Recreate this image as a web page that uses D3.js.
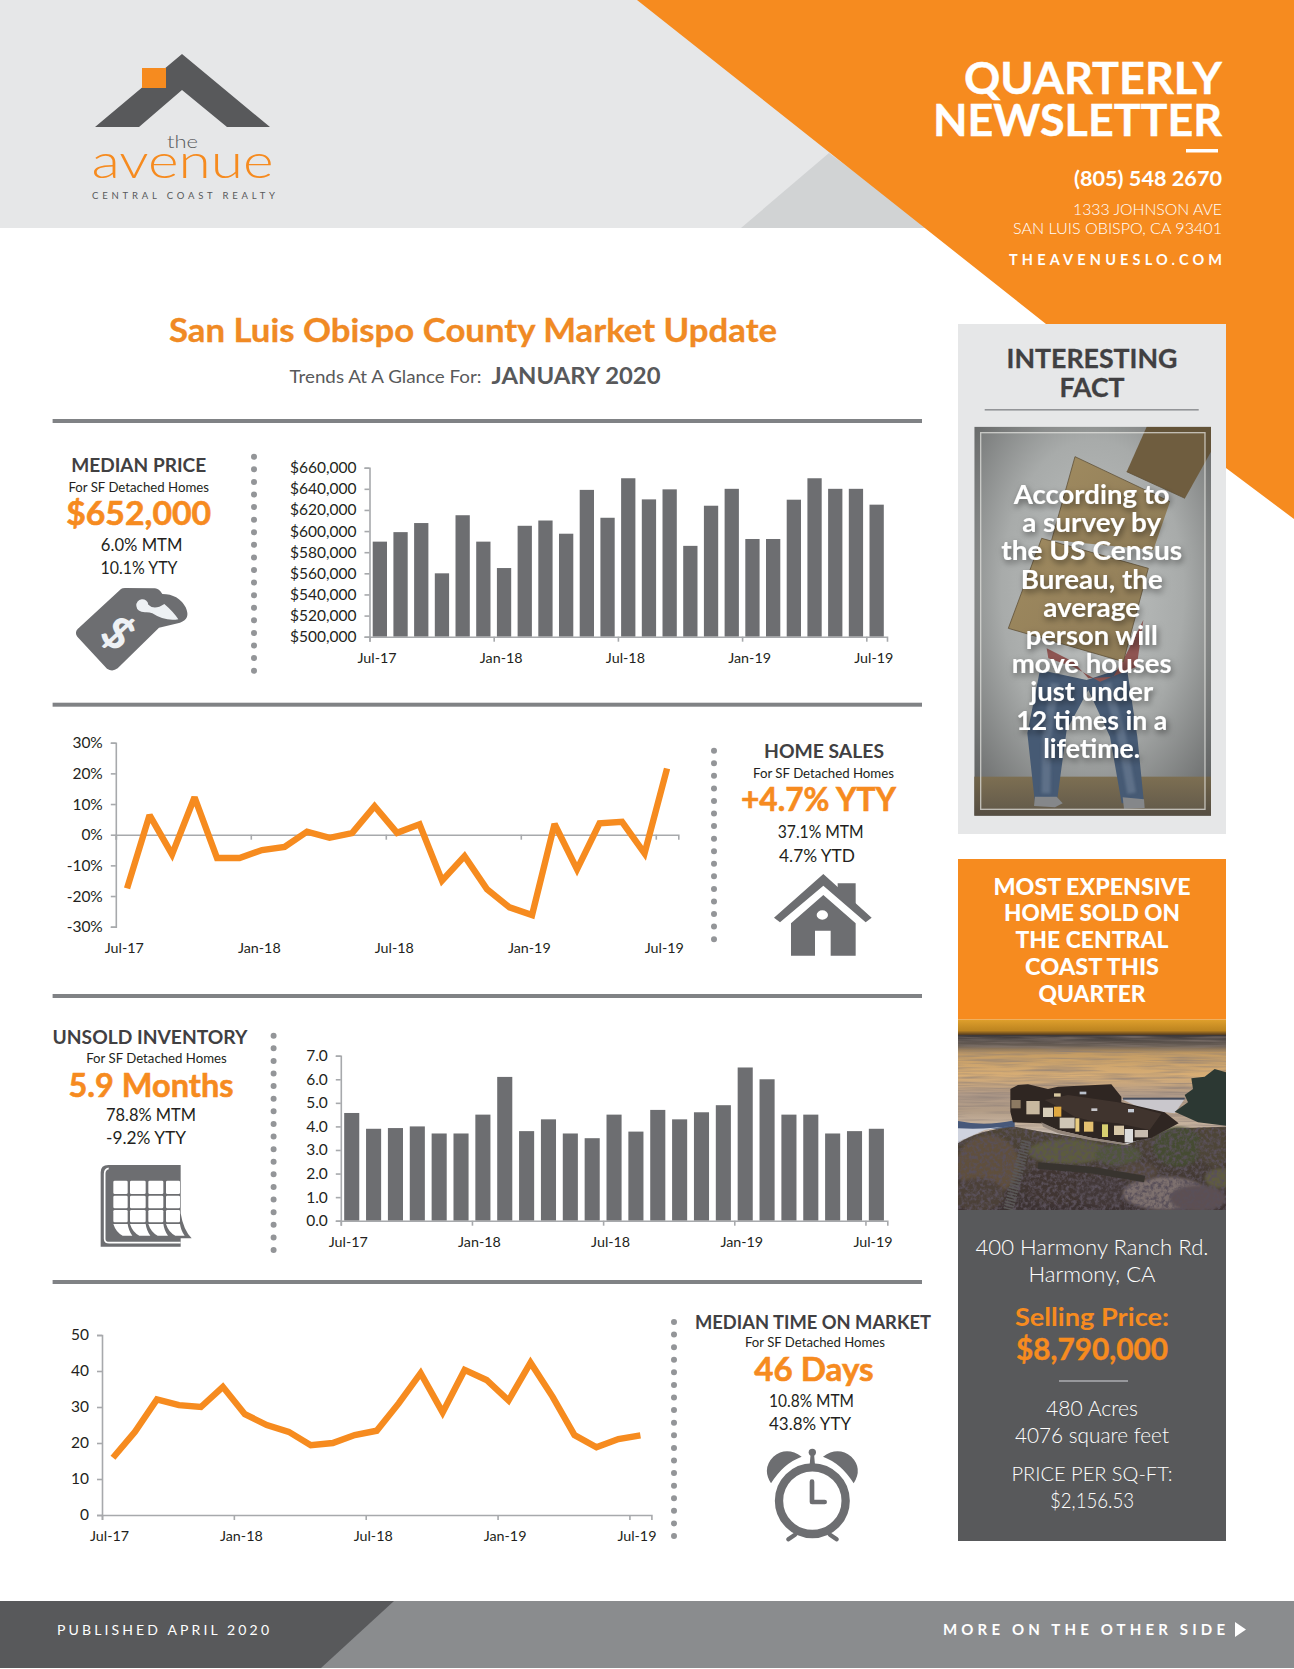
<!DOCTYPE html>
<html><head><meta charset="utf-8">
<script src="https://cdn.jsdelivr.net/npm/d3@7"></script>
<style>
html,body{margin:0;padding:0;background:#fff}
svg{display:block}
text{font-family:Lato,"Open Sans",sans-serif}
.axis text{fill:#231f20;font-size:15.5px;font-weight:400;font-family:Lato,sans-serif}
.axis line,.axis path{stroke:#a7a9ac;stroke-width:1.6;fill:none}
</style></head><body>
<script>
const months=["Jul-17","Aug-17","Sep-17","Oct-17","Nov-17","Dec-17","Jan-18","Feb-18","Mar-18","Apr-18","May-18","Jun-18","Jul-18","Aug-18","Sep-18","Oct-18","Nov-18","Dec-18","Jan-19","Feb-19","Mar-19","Apr-19","May-19","Jun-19","Jul-19"];
const tickMonths=["Jul-17","Jan-18","Jul-18","Jan-19","Jul-19"];
const medianPrice=[590,599,607.6,560,615,590,565,605,610,597.5,639,612.6,650,630,639.5,586,624,640,592.5,592.5,629.7,650,640,640,625].map(v=>v*1000);
const homeSales=[-17.5,6.4,-6.4,12.2,-7.6,-7.6,-5,-4,1,-1,0.5,9.3,0.6,3.4,-15,-7,-17.8,-23.7,-26.2,3.5,-11.3,3.7,4.2,-6.1,21.6];
const inventory=[4.57,3.9,3.93,4.0,3.7,3.7,4.5,6.1,3.8,4.3,3.7,3.5,4.5,3.78,4.7,4.3,4.6,4.9,6.5,6.0,4.5,4.5,3.7,3.8,3.9];
const timeOnMarket=[15.9,23.1,32.1,30.5,30,35.6,28,25,23.1,19.4,20,22.2,23.4,31,39.4,28.5,40.3,37.5,31.8,42.3,32.9,22.2,18.8,21.1,22.1];
const priceTicks=[500,520,540,560,580,600,620,640,660].map(v=>v*1000);
const salesTicks=[-30,-20,-10,0,10,20,30];
const inventoryTicks=[0,1,2,3,4,5,6,7];
const timeTicks=[0,10,20,30,40,50];
const factLines=["According to","a survey by","the US Census","Bureau, the","average","person will","move houses","just under","12 times in a","lifetime."];
const factWidths=[156,139,181,142,97,132,160,123,151,97];
const soldLines=["MOST EXPENSIVE","HOME SOLD ON","THE CENTRAL","COAST THIS","QUARTER"];
const soldWidths=[197,176,153,134,107];

const ORANGE="#f68b1f",DARK="#58595b",HEAD="#414042",BAR="#6d6e71",GR="#e6e7e8";
const svg=d3.select("body").append("svg").attr("width",1294).attr("height",1669).attr("viewBox","0 0 1294 1669");
const defs=svg.append("defs");
defs.html(`
<radialGradient id="wall" cx="50%" cy="42%" r="70%"><stop offset="0" stop-color="#c0c3c2"/><stop offset=".55" stop-color="#a8abaa"/><stop offset="1" stop-color="#6c6e6e"/></radialGradient>
<linearGradient id="floor" x1="0" y1="0" x2="0" y2="1"><stop offset="0" stop-color="#7d6f52"/><stop offset="1" stop-color="#5f574a"/></linearGradient>
<linearGradient id="sky" x1="0" y1="0" x2="0" y2="1"><stop offset="0" stop-color="#e0a02c"/><stop offset=".7" stop-color="#bd8420"/><stop offset="1" stop-color="#4a3420"/></linearGradient>
<linearGradient id="sea" x1="0" y1="0" x2="0" y2="1"><stop offset="0" stop-color="#3b3738"/><stop offset=".1" stop-color="#6a5f56"/><stop offset=".17" stop-color="#c49c64"/><stop offset=".38" stop-color="#d8ae76"/><stop offset=".55" stop-color="#b09a88"/><stop offset=".7" stop-color="#b29c86"/><stop offset=".85" stop-color="#ccb8a4"/><stop offset="1" stop-color="#b4b6c4"/></linearGradient>
<linearGradient id="land" x1="0" y1="0" x2="0" y2="1"><stop offset="0" stop-color="#4e4536"/><stop offset="1" stop-color="#3a3032"/></linearGradient>
<linearGradient id="box" x1="0" y1="0" x2="1" y2="1"><stop offset="0" stop-color="#a08b60"/><stop offset="1" stop-color="#8d7a56"/></linearGradient>
<filter id="soft" x="-20%" y="-20%" width="140%" height="140%"><feGaussianBlur stdDeviation="5"/></filter>
<filter id="soft1" x="-20%" y="-20%" width="140%" height="140%"><feGaussianBlur stdDeviation="1.6"/></filter>
<filter id="bands" x="0" y="0" width="100%" height="100%"><feTurbulence type="fractalNoise" baseFrequency="0.005 0.14" numOctaves="3" seed="4"/><feColorMatrix values="0 0 0 0 .25  0 0 0 0 .2  0 0 0 0 .18  1.5 0 0 0 -.6"/></filter>
<filter id="bush" x="0" y="0" width="100%" height="100%"><feTurbulence type="fractalNoise" baseFrequency="0.09" numOctaves="3" seed="9"/><feColorMatrix values="0 0 0 0 .1  0 0 0 0 .08  0 0 0 0 .1  3 0 0 0 -1.2"/></filter>
<filter id="ts" x="-20%" y="-40%" width="140%" height="180%"><feDropShadow dx="1.5" dy="3" stdDeviation="3" flood-color="#000" flood-opacity=".5"/></filter>
<clipPath id="c1"><rect x="974.3" y="426.7" width="236.7" height="389"/></clipPath>
<clipPath id="c2"><rect x="958" y="1019.6" width="268" height="190.4"/></clipPath>
<clipPath id="landClip"><path d="M0 385Q60 345 170 335L250 350L500 390L650 340L805 335V600H0Z"/></clipPath>
<clipPath id="seaClip"><rect x="0" y="62" width="805" height="320"/></clipPath>`);

// helpers
function T(str,x,y,o={}){
  const t=svg.append("text").attr("x",x).attr("y",y).text(str)
    .attr("text-anchor",o.anchor||"middle").attr("font-size",o.size||16)
    .attr("font-weight",o.weight||400).attr("fill",o.fill||"#231f20");
  if(o.width){t.attr("textLength",o.width).attr("lengthAdjust",o.adjust||"spacingAndGlyphs");}
  if(o.filter)t.attr("filter",o.filter);
  if(o.stroke)t.attr("stroke",o.fill).attr("stroke-width",o.stroke);
  return t;
}
function P(d,fill,parent){return (parent||svg).append("path").attr("d",d).attr("fill",fill);}
const icon=(x,y)=>svg.append("g").attr("transform",`translate(${x},${y}) scale(0.33333)`);

// header
svg.append("rect").attr("width",1294).attr("height",228).attr("fill",GR);
P("M829 153L741 228H930Z","#d1d3d4");
P("M637 0H1294V519L1226 468V324H1046Z",ORANGE);
// logo
P("M182 54L270 127H227L182 90L139 127H95Z",DARK);
svg.append("rect").attr("x",142).attr("y",68).attr("width",24).attr("height",20).attr("fill",ORANGE);
T("the",182.5,148,{size:18,weight:300,fill:DARK,width:31});
T("avenue",182.5,178,{size:47,weight:300,fill:ORANGE,width:182});
T("CENTRAL COAST REALTY",183.5,199,{size:9.5,fill:DARK,width:183,adjust:"spacing"});
T("QUARTERLY",1222,94,{size:44,weight:700,fill:"#fff",anchor:"end",width:258,stroke:.4});
T("NEWSLETTER",1222,136,{size:44,weight:700,fill:"#fff",anchor:"end",width:289,stroke:.4});
svg.append("rect").attr("x",1186).attr("y",149).attr("width",32).attr("height",3.5).attr("fill","#fff");
T("(805) 548 2670",1222,186,{size:20,weight:700,fill:"#fff",anchor:"end",width:148});
T("1333 JOHNSON AVE",1222,215,{size:16,weight:300,fill:"#fff",anchor:"end",width:149});
T("SAN LUIS OBISPO, CA 93401",1222,234,{size:16,weight:300,fill:"#fff",anchor:"end",width:209});
T("THEAVENUESLO.COM",1222,265,{size:14.5,weight:700,fill:"#fff",anchor:"end",width:213,adjust:"spacing"});
// title
T("San Luis Obispo County Market Update",473,342,{size:32,weight:700,fill:"#f08a24",width:608,stroke:.3});
T("Trends At A Glance For:",385.5,382.5,{size:17.5,fill:DARK,width:192});
T("JANUARY 2020",576,383.5,{size:23,weight:700,fill:DARK,width:169});

// dividers
[421,704.7,996,1282].forEach(y=>svg.append("rect").attr("x",52.6).attr("y",y-2).attr("width",869.4).attr("height",4).attr("fill","#808285"));
// dotted lines
[[254,456.7,670.7],[714,750.7,951.7],[273.6,1035.7,1250],[674,1322,1536]].forEach(([x,a,b])=>{
  svg.append("line").attr("x1",x).attr("x2",x).attr("y1",a).attr("y2",b)
    .attr("stroke","#939598").attr("stroke-width",6).attr("stroke-linecap","round")
    .attr("stroke-dasharray",`0 ${(b-a)/Math.round((b-a)/12.4)}`);
});

// charts
function chart(cfg){
  const g=svg.append("g");
  const x=d3.scaleBand().domain(months).range([cfg.x0,cfg.x1]).padding(0);
  const xt=d3.scaleLinear().domain([0,months.length]).range([cfg.x0,cfg.x1]);
  const y=d3.scaleLinear().domain(cfg.domain).range([cfg.yb,cfg.yt]);
  if(cfg.kind==="bar"){
    const w=x.bandwidth()*0.69;
    g.selectAll("rect").data(cfg.values).join("rect")
      .attr("x",(d,i)=>x(months[i])+(x.bandwidth()-w)/2).attr("width",w)
      .attr("y",d=>y(d)).attr("height",d=>y(cfg.domain[0])-y(d)).attr("fill",BAR);
  }
  g.append("g").attr("class","axis").attr("transform",`translate(${cfg.x0},0)`)
    .call(d3.axisLeft(y).tickValues(cfg.ticks).tickFormat(cfg.fmt).tickSizeOuter(0).tickSize(5).tickPadding(cfg.pad||8));
  const base=cfg.base===undefined?cfg.domain[0]:cfg.base;
  const xa=g.append("g").attr("class","axis").attr("transform",`translate(0,${y(base)})`)
    .call(d3.axisBottom(xt).tickValues([0,6,12,18,24]).tickFormat((d,i)=>tickMonths[i]).tickSizeOuter(0).tickSize(5));
  xa.selectAll("text").attr("dx",cfg.dx||7).attr("y",0).attr("dy",0).style("font-size","14.3px")
    .attr("transform",`translate(0,${cfg.labelY-y(base)+5})`);
  if(cfg.kind==="line"){
    g.append("path").datum(cfg.values).attr("fill","none").attr("stroke",ORANGE)
      .attr("stroke-width",6.4).attr("stroke-linejoin","miter").attr("stroke-miterlimit",2.5)
      .attr("d",d3.line().x((d,i)=>x(months[i])+x.bandwidth()/2).y(d=>y(d)));
  }
}
chart({kind:"bar",values:medianPrice,x0:369.5,x1:887,yt:467.7,yb:636.7,domain:[500000,660000],ticks:priceTicks,fmt:d3.format("$,"),labelY:658});
chart({kind:"line",values:homeSales,x0:115.8,x1:678.3,yt:742.7,yb:926.7,domain:[-30,30],base:0,ticks:salesTicks,fmt:d=>d+"%",labelY:948,dx:8});
chart({kind:"bar",values:inventory,x0:340.8,x1:887.3,yt:1055.7,yb:1220.7,domain:[0,7],ticks:inventoryTicks,fmt:d3.format(".1f"),labelY:1242});
chart({kind:"line",values:timeOnMarket,x0:102,x1:651.4,yt:1335,yb:1515,domain:[0,50],ticks:timeTicks,fmt:d=>d,labelY:1536,dx:7});

// stat blocks
function stat(a){
  T(a[0][0],a[0][1],a[0][2],{size:18.5,weight:700,fill:HEAD,width:a[0][3]});
  T(a[1][0],a[1][1],a[1][2],{size:13,fill:"#231f20",width:a[1][3]});
  T(a[2][0],a[2][1],a[2][2]+1,{size:33,weight:700,fill:ORANGE,width:a[2][3],stroke:.6});
  T(a[3][0],a[3][1],a[3][2],{size:17,fill:"#231f20",width:a[3][3]});
  T(a[4][0],a[4][1],a[4][2],{size:17,fill:"#231f20",width:a[4][3]});
}
stat([["MEDIAN PRICE",138.7,471.7,135],["For SF Detached Homes",138.7,491.7,140.6],["$652,000",138.7,524,145],["6.0% MTM",141.6,551,81.5],["10.1% YTY",139,574,77]]);
stat([["HOME SALES",824,757.7,120],["For SF Detached Homes",823.5,777.7,141],["+4.7% YTY",818.5,810.3,155],["37.1% MTM",820.7,837.7,86],["4.7% YTD",817,861.7,76]]);
stat([["UNSOLD INVENTORY",150,1043.7,195],["For SF Detached Homes",156.5,1063.3,140.6],["5.9 Months",151,1096,165],["78.8% MTM",151,1121,90],["-9.2% YTY",146,1144,80]]);
stat([["MEDIAN TIME ON MARKET",813,1328.7,236],["For SF Detached Homes",815,1347.3,140],["46 Days",814,1380,119.4],["10.8% MTM",811.5,1406.7,85],["43.8% YTY",810,1430,82]]);

// price tag
const tag=icon(65,580);
P("M168 27Q172 24 180 24L270 25Q282 26 292 42Q340 42 362 82Q378 118 345 128L282 143L158 265Q142 277 126 266L37 170Q28 158 38 147Z",BAR,tag);
P("M214 78a18 18 0 0 1 36 -4Q268 92 298 72Q325 95 340 118Q300 125 262 100Q252 96 240 97Q216 96 214 78Z","#eef1f4",tag);
tag.append("text").attr("transform","translate(158,160) rotate(42) translate(0,46)")
  .attr("text-anchor","middle").attr("font-size",132).attr("font-weight",900).attr("fill","#eef1f4").text("$");
// house
const hs=icon(765,865);
P("M218 55H272V125L218 75Z",BAR,hs);
P("M175 27L320 158L302 172L175 62L45 172L27 158Z",BAR,hs);
P("M175 90L272 175V272H197V197H150V272H78V175Z",BAR,hs);
hs.append("ellipse").attr("cx",172).attr("cy",150).attr("rx",17).attr("ry",14).attr("fill","#fff");
// calendar
const cal=icon(90,1155);
P("M32 52Q32 30 55 30H272V175Q280 225 305 250H272V275H32Z",BAR,cal);
cal.append("path").attr("d","M56 40Q44 42 44 56V252Q44 263 58 263H272").attr("fill","none").attr("stroke","#fff").attr("stroke-width",5);
[[70,113],[120,167],[175,220],[228,270]].forEach(([a,b])=>{
  [[77,117],[122,160],[165,202]].forEach(([c,d])=>{
    cal.append("rect").attr("x",a).attr("y",c).attr("width",b-a).attr("height",d-c).attr("rx",4).attr("fill","#fff");
  });
  P(`M${a} 207H${b}Q${b+3} 228 ${b+14} 242H${a+28}Q${a+8} 232 ${a} 207Z`,"#fff",cal);
});
// clock
const ck=icon(755,1440);
const ear="M48 130Q20 85 55 50Q95 18 140 50Q85 70 48 130Z";
P(ear,BAR,ck);
P(ear,BAR,ck).attr("transform","translate(344,0) scale(-1,1)");
ck.append("circle").attr("cx",172).attr("cy",37).attr("r",11).attr("fill",BAR);
P("M167 40H177L180 75H164Z",BAR,ck);
ck.append("path").attr("d","M120 284L100 298M225 284L245 298").attr("stroke",BAR).attr("stroke-width",13).attr("stroke-linecap","round");
ck.append("circle").attr("cx",172).attr("cy",182).attr("r",100).attr("fill","#fff").attr("stroke",BAR).attr("stroke-width",25);
ck.append("path").attr("d","M171 125V186H209").attr("fill","none").attr("stroke",BAR).attr("stroke-width",14).attr("stroke-linecap","round").attr("stroke-linejoin","round");

// fact panel
svg.append("rect").attr("x",958).attr("y",324).attr("width",268).attr("height",510).attr("fill",GR);
T("INTERESTING",1092,368,{size:27,weight:700,fill:HEAD,width:171,stroke:.3});
T("FACT",1092,397,{size:27,weight:700,fill:HEAD,width:65,stroke:.3});
svg.append("rect").attr("x",984.7).attr("y",409).attr("width",214).attr("height",1.6).attr("fill","#939598");
const ph=svg.append("g").attr("clip-path","url(#c1)");
ph.append("rect").attr("x",974.3).attr("y",426.7).attr("width",236.7).attr("height",389).attr("fill","url(#wall)");
const m=ph.append("g").attr("transform","translate(940,320) scale(0.33333)");
m.append("rect").attr("x",100).attr("y",1370).attr("width",720).attr("height",120).attr("fill","url(#floor)");
P("M300 1050L440 1080L560 1040L592 1250L612 1450H545L510 1250L445 1110L380 1230L350 1450H285L262 1240Z","#465a74",m);
m.append("path").attr("d","M345 1090L320 1250L318 1420M500 1090L545 1250L575 1420").attr("fill","none").attr("stroke","#7d8da3").attr("stroke-width",26).attr("opacity",.45).attr("filter","url(#soft)");
P("M320 985L400 1025L445 1075L520 1070L560 1000L610 900L590 1040L480 1085L400 1040L325 1015Z","#8f5552",m);
P("M285 1430L350 1430L368 1450L345 1462L282 1458Z","#85878a",m);
P("M548 1432L612 1438L614 1464L552 1466Z","#85878a",m);
P("M620 320H813V395L735 535L560 455Z","#6f5d3f",m);
P("M405 410L690 545L640 690L335 660Z","url(#box)",m);
P("M305 655L625 745L550 1025L205 925Z","url(#box)",m);
m.append("path").attr("d","M405 410L690 545M405 410L335 660M305 655L625 745L550 1025L205 925L305 655M560 455L735 535").attr("fill","none").attr("stroke","#5f5037").attr("stroke-width",3).attr("stroke-opacity",.8);
m.append("path").attr("fill-rule","evenodd").attr("d","M100 318H815V1490H100ZM122 338V1468H795V338Z").attr("fill","#000").attr("opacity",.1);
m.append("rect").attr("x",122).attr("y",338).attr("width",673).attr("height",1130).attr("fill","none").attr("stroke","#e9e9e6").attr("stroke-opacity",.7).attr("stroke-width",4);
factLines.forEach((s,i)=>T(s,1091.7,504+28.2*i,{size:27,weight:700,fill:"#fff",width:factWidths[i],filter:"url(#ts)"}));

// sold panel
svg.append("rect").attr("x",958).attr("y",859).attr("width",268).attr("height",160.6).attr("fill",ORANGE);
soldLines.forEach((s,i)=>T(s,1092,894.5+26.8*i,{size:22,weight:900,fill:"#fff",width:soldWidths[i]}));
const h=svg.append("g").attr("clip-path","url(#c2)").append("g").attr("transform","translate(958,1015) scale(0.33333)");
h.append("rect").attr("y",13).attr("width",805).attr("height",48).attr("fill","url(#sky)");
h.append("rect").attr("y",60).attr("width",805).attr("height",325).attr("fill","url(#sea)");
h.append("g").attr("clip-path","url(#seaClip)").append("rect").attr("y",62).attr("width",805).attr("height",320).attr("filter","url(#bands)");
P("M0 318Q80 335 170 316V340L0 345Z","#46587a",h).attr("filter","url(#soft1)");
P("M0 340Q90 345 170 330L80 345L0 380Z","#cfd3de",h).attr("filter","url(#soft1)");
P("M490 252H680L650 295L560 285Z","#c9c7cc",h).attr("filter","url(#soft1)");
h.append("rect").attr("x",495).attr("y",248).attr("width",185).attr("height",6).attr("fill","#454c5c");
P("M0 385Q60 345 170 335L250 350L500 390L650 340L805 335V600H0Z","url(#land)",h);
// hillside masses
[[90,450,95,90,"#5e4f3c"],[60,540,80,50,"#4c3f38"],[330,410,120,38,"#5c5c3e"],[480,420,70,32,"#50543a"],[660,395,75,60,"#454b30"],[770,400,50,55,"#4d4537"],[300,510,110,60,"#3f3432"],[440,530,90,45,"#433837"],[620,535,125,50,"#7d6f6e"],[720,550,85,40,"#5c4f52"],[790,490,50,30,"#5f5c40"],[540,470,60,28,"#52463e"]].forEach(([cx,cy,rx,ry,c])=>
  h.append("ellipse").attr("cx",cx).attr("cy",cy).attr("rx",rx).attr("ry",ry).attr("fill",c).attr("filter","url(#soft)"));
h.append("g").attr("clip-path","url(#landClip)").append("rect").attr("y",335).attr("width",805).attr("height",255).attr("filter","url(#bush)");
h.append("path").attr("d","M205 378L150 585").attr("stroke","#5a5857").attr("stroke-width",30).attr("stroke-dasharray","5 4").attr("fill","none");
h.append("path").attr("d","M240 452L400 465L560 492").attr("stroke","#38342f").attr("stroke-width",20).attr("fill","none");
P("M650 290L690 262L680 240L705 222L700 190L740 185L770 162L805 172V332L720 322Z","#2c3833",h);
// house
P("M157 222L180 210L210 208L270 222L300 215L460 208L490 245V262L620 292L662 325L580 368L500 385L400 368L300 345L250 325L165 322L157 290Z","#2f2622",h);
P("M260 255L330 240L480 262L610 296L575 345L480 325L400 318L350 305L300 275Z","#40342e",h);
P("M250 322L300 345L400 368L500 385L520 392L395 375L300 355L255 335Z","#93857a",h);
[[205,258,40,40,"#c8b8a0"],[160,255,28,25,"#8d7a62"],[255,278,30,28,"#d8cdb8"],[288,275,22,30,"#e0a840"],[305,308,45,32,"#cfc6b6"],[352,310,12,40,"#e8cc80"],[378,320,28,30,"#e4c070"],[432,328,18,38,"#d8d070"],[468,332,30,28,"#d8c8a8"],[500,342,25,40,"#dcdcdc"],[530,345,40,22,"#c8bcb0"],[288,235,20,10,"#d8c8a0"],[365,230,20,8,"#b9c0cc"],[400,280,18,8,"#c8c8cc"],[510,282,18,10,"#c4cad4"]].forEach(([x,y,w,H,c])=>
  h.append("rect").attr("x",x).attr("y",y).attr("width",w).attr("height",H).attr("fill",c));

svg.append("rect").attr("x",958).attr("y",1210).attr("width",268).attr("height",331).attr("fill",DARK);
T("400 Harmony Ranch Rd.",1092,1255,{size:22,weight:300,fill:"#fff",width:233});
T("Harmony, CA",1092,1282,{size:22,weight:300,fill:"#fff",width:127});
T("Selling Price:",1092,1325.5,{size:25,weight:700,fill:ORANGE,width:154});
T("$8,790,000",1092,1359.5,{size:30,weight:700,fill:ORANGE,width:152,stroke:.4});
svg.append("rect").attr("x",1059).attr("y",1380.2).attr("width",69).attr("height",1.6).attr("fill","#a7a9ac");
T("480 Acres",1092,1416,{size:21,weight:300,fill:"#fff",width:92});
T("4076 square feet",1092,1443,{size:21,weight:300,fill:"#fff",width:154});
T("PRICE PER SQ-FT:",1092,1481,{size:20,weight:300,fill:"#fff",width:161});
T("$2,156.53",1092,1507.6,{size:21,weight:300,fill:"#fff",width:84});

// footer
svg.append("rect").attr("y",1601).attr("width",1294).attr("height",67).attr("fill","#8a8c8e");
P("M0 1601H394L321 1668H0Z",DARK);
T("PUBLISHED APRIL 2020",57,1635,{size:14,anchor:"start",fill:"#fff",width:212,adjust:"spacing"});
T("MORE ON THE OTHER SIDE",943,1635,{size:15,weight:700,anchor:"start",fill:"#fff",width:282,adjust:"spacing"});
P("M1235 1622L1246 1629.5L1235 1637Z","#fff");
</script></body></html>
